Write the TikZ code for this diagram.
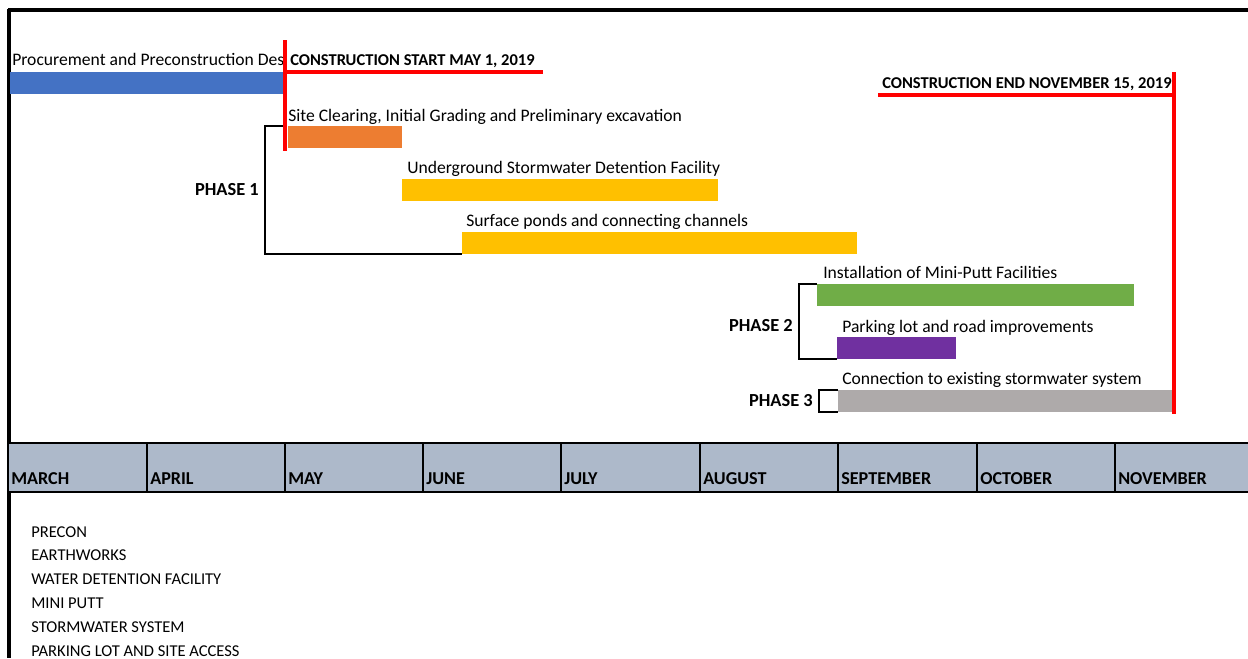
\documentclass[tikz,border=0pt]{standalone}
\usepackage{fontspec}
\setmainfont{Carlito}
\definecolor{cblue}{HTML}{4472C4}
\definecolor{corange}{HTML}{ED7D31}
\definecolor{cyellow}{HTML}{FFC000}
\definecolor{cgreen}{HTML}{70AD47}
\definecolor{cpurple}{HTML}{7030A0}
\definecolor{cgray}{HTML}{AEAAAA}
\definecolor{chead}{HTML}{ADB9CA}
\definecolor{cred}{HTML}{FF0000}
\tikzset{
  bar/.style={rectangle, inner sep=0pt, outer sep=0pt, anchor=north west, minimum height=22*0.75pt},
  lbl/.style={inner sep=0pt, anchor=base west, font=\fontsize{13.2}{15}\selectfont},
  blbl/.style={inner sep=0pt, anchor=base west, font=\fontsize{12.4}{14}\selectfont\bfseries},
  phase/.style={inner sep=0pt, anchor=east, font=\fontsize{13.8}{16}\selectfont\bfseries},
  redline/.style={draw=cred, line width=3.2pt},
  brk/.style={draw=black, line width=1.6pt},
  frame/.style={draw=black, line width=2.4pt},
  month/.style={inner sep=0pt, anchor=base west, font=\fontsize{13.6}{16}\selectfont\bfseries},
  legend/.style={inner sep=0pt, anchor=base west, font=\fontsize{12.4}{14}\selectfont},
}
\begin{document}
\begin{tikzpicture}[x=0.75pt,y=-0.75pt]
\useasboundingbox (0,0) rectangle (1248,658);
% frame
\draw[frame] (8,10) -- (1248,10);
\draw[frame] (9,9) -- (9,658);
% month header
\fill[chead] (9,443) rectangle (1248,492);
\draw[line width=1.6pt] (9,443) -- (1248,443);
\draw[line width=1.6pt] (9,492) -- (1248,492);
\foreach \x in {147,285,423,561,700,838,977,1115}{\draw[line width=1.6pt] (\x,443) -- (\x,492);}
\node[month] (m1) at (11,484) {MARCH};
\node[month] (m2) at (150,484) {APRIL};
\node[month] (m3) at (288,484) {MAY};
\node[month] (m4) at (426,484) {JUNE};
\node[month] (m5) at (564,484) {JULY};
\node[month] (m6) at (703,484) {AUGUST};
\node[month] (m7) at (841,484) {SEPTEMBER};
\node[month] (m8) at (980,484) {OCTOBER};
\node[month] (m9) at (1118,484) {NOVEMBER};
% legend
\node[legend] (g1) at (31,537) {PRECON};
\node[legend] (g2) at (31,560) {EARTHWORKS};
\node[legend] (g3) at (31,584) {WATER DETENTION FACILITY};
\node[legend] (g4) at (31,608) {MINI PUTT};
\node[legend] (g5) at (31,632) {STORMWATER SYSTEM};
\node[legend] (g6) at (31,656) {PARKING LOT AND SITE ACCESS};
% bars
\node[bar, fill=cblue, minimum width=275*0.75pt] (pre) at (10,72) {};
\node[bar, fill=corange, minimum width=114*0.75pt] (site) at (288,126) {};
\node[bar, fill=cyellow, minimum width=316*0.75pt] (ug) at (402,179) {};
\node[bar, fill=cyellow, minimum width=395*0.75pt] (surf) at (462,232) {};
\node[bar, fill=cgreen, minimum width=317*0.75pt] (mini) at (817,284) {};
\node[bar, fill=cpurple, minimum width=119*0.75pt] (park) at (837,337) {};
\node[bar, fill=cgray, minimum width=335*0.75pt] (conn) at (838,390) {};
% bar labels
\node[lbl] (tpre) at (12,65) {Procurement and Preconstruction Des};
\node[lbl] (tsite) at (288,121) {Site Clearing, Initial Grading and Preliminary excavation};
\node[lbl] (tug) at (407,173) {Underground Stormwater Detention Facility};
\node[lbl] (tsurf) at (466,226) {Surface ponds and connecting channels};
\node[lbl] (tmini) at (823,278) {Installation of Mini-Putt Facilities};
\node[lbl] (tpark) at (842,332) {Parking lot and road improvements};
\node[lbl] (tconn) at (842,384) {Connection to existing stormwater system};
% brackets
\coordinate (b1t) at (285,126);
\draw[brk] (b1t) -- (265,126) |- (surf.south west);
\draw[brk] (mini.north west) -- (799,284) |- (park.south west);
\draw[brk] (conn.north west) -- (819,390) |- (conn.south west);
\node[phase] (p1) at (259,190) {PHASE 1};
\node[phase] (p2) at (793,326) {PHASE 2};
\node[phase] (p3) at (813,401) {PHASE 3};
% start milestone
\fill[white] (286,45) rectangle (545,70);
\coordinate (s1) at (285,40);
\coordinate (s2) at (285,151);
\coordinate (s3) at (543,72);
\draw[redline] (s1) -- (s2);
\draw[redline] (285,72) -- (s3);
\node[blbl] (tstart) at (290,65) {CONSTRUCTION START MAY 1, 2019};
% end milestone
\coordinate (e1) at (1174,72);
\coordinate (e2) at (1174,414);
\coordinate (e3) at (878,95);
\draw[redline] (e1) -- (e2);
\draw[redline] (e3) -- (1174,95);
\node[blbl] (tend) at (882,88) {CONSTRUCTION END NOVEMBER 15, 2019};
\end{tikzpicture}
\end{document}
